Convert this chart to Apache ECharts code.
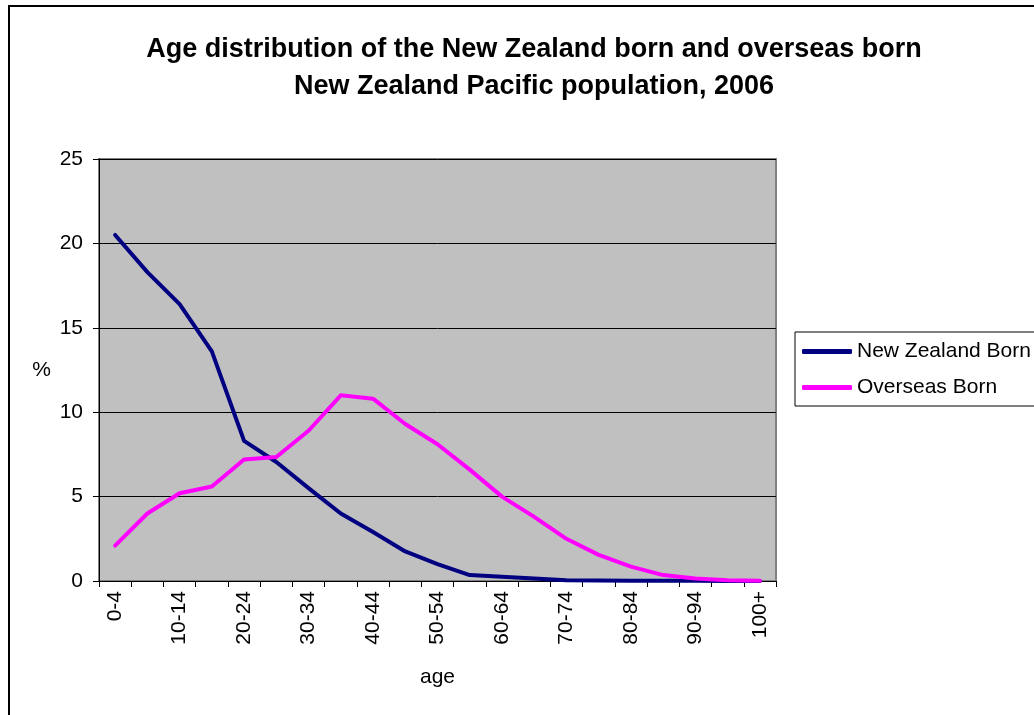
<!DOCTYPE html>
<html>
<head>
<meta charset="utf-8">
<script src="https://cdn.jsdelivr.net/npm/echarts@6/dist/echarts.min.js"></script>
<style>
  html, body { margin: 0; padding: 0; background: #ffffff; }
  #chart { width: 1034px; height: 715px; }
</style>
</head>
<body>
<div id="chart"></div>
<script>
// Five-year age groups
const ageGroups = ['0-4', '5-9', '10-14', '15-19', '20-24', '25-29', '30-34', '35-39', '40-44',
  '45-49', '50-54', '55-59', '60-64', '65-69', '70-74', '75-79', '80-84', '85-89', '90-94',
  '95-99', '100+'];

// Percentage of each population in each age group
const nzBorn = [20.5, 18.3, 16.4, 13.6, 8.3, 7.05, 5.5, 4.0, 2.9, 1.75, 1.0, 0.35, 0.25, 0.15,
  0.05, 0.03, 0.02, 0.01, 0.01, 0.0, 0.0];
const overseasBorn = [2.1, 4.0, 5.2, 5.6, 7.2, 7.35, 8.9, 11.0, 10.8, 9.3, 8.1, 6.6, 5.0, 3.8,
  2.5, 1.55, 0.85, 0.35, 0.15, 0.05, 0.02];

const yTicks = { min: 0, max: 25, interval: 5 };

const font = 'Liberation Sans, Arial, sans-serif';
const labelSize = 21;
const chart = echarts.init(document.getElementById('chart'), null, { renderer: 'canvas' });

chart.setOption({
  backgroundColor: '#ffffff',
  animation: false,
  textStyle: { fontFamily: font },
  title: {
    text: 'Age distribution of the New Zealand born and overseas born\nNew Zealand Pacific population, 2006',
    left: 529,
    top: 26,
    textAlign: 'center',
    textStyle: { fontFamily: font, fontSize: 27, fontWeight: 'bold', color: '#000000', lineHeight: 37 }
  },
  graphic: [{
    type: 'rect',
    z: -1,
    shape: { x: 9, y: 6, width: 1200, height: 900 },
    style: { fill: null, stroke: '#000000', lineWidth: 2 }
  }],
  legend: {
    orient: 'vertical',
    left: 795,
    top: 332,
    padding: [9, 20, 8, 7],
    itemGap: 15,
    itemWidth: 50,
    itemHeight: 5,
    icon: 'roundRect',
    borderColor: '#000000',
    borderWidth: 1,
    backgroundColor: '#ffffff',
    textStyle: { fontFamily: font, fontSize: labelSize, color: '#000000' },
    data: ['New Zealand Born', 'Overseas Born']
  },
  grid: {
    left: 99,
    right: 258,
    top: 159,
    bottom: 134,
    show: true,
    backgroundColor: '#c0c0c0',
    borderColor: '#808080',
    borderWidth: 2
  },
  xAxis: {
    type: 'category',
    data: ageGroups,
    boundaryGap: true,
    name: 'age',
    nameLocation: 'middle',
    nameGap: 86,
    nameTextStyle: { fontFamily: font, fontSize: labelSize, color: '#000000' },
    axisLine: { show: true, lineStyle: { color: '#000000', width: 1 } },
    axisTick: { show: true, interval: 0, length: 6, lineStyle: { color: '#000000' } },
    axisLabel: { interval: 1, rotate: 90, margin: 10, fontFamily: font, fontSize: labelSize, color: '#000000' },
    splitLine: { show: false }
  },
  yAxis: {
    type: 'value',
    min: yTicks.min,
    max: yTicks.max,
    interval: yTicks.interval,
    name: '%',
    nameLocation: 'middle',
    nameRotate: 0,
    nameGap: 48,
    nameTextStyle: { fontFamily: font, fontSize: labelSize, color: '#000000' },
    axisLine: { show: true, lineStyle: { color: '#000000', width: 1 } },
    axisTick: { show: true, length: 6, lineStyle: { color: '#000000' } },
    axisLabel: { margin: 16, fontFamily: font, fontSize: labelSize, color: '#000000' },
    splitLine: { show: true, lineStyle: { color: '#000000', width: 1 } }
  },
  series: [
    {
      name: 'New Zealand Born',
      type: 'line',
      data: nzBorn,
      symbol: 'none',
      color: '#000080',
      lineStyle: { width: 4, color: '#000080', cap: 'round', join: 'round' },
      z: 3
    },
    {
      name: 'Overseas Born',
      type: 'line',
      data: overseasBorn,
      symbol: 'none',
      color: '#ff00ff',
      lineStyle: { width: 4, color: '#ff00ff', cap: 'round', join: 'round' },
      z: 4
    }
  ]
});
</script>
</body>
</html>
